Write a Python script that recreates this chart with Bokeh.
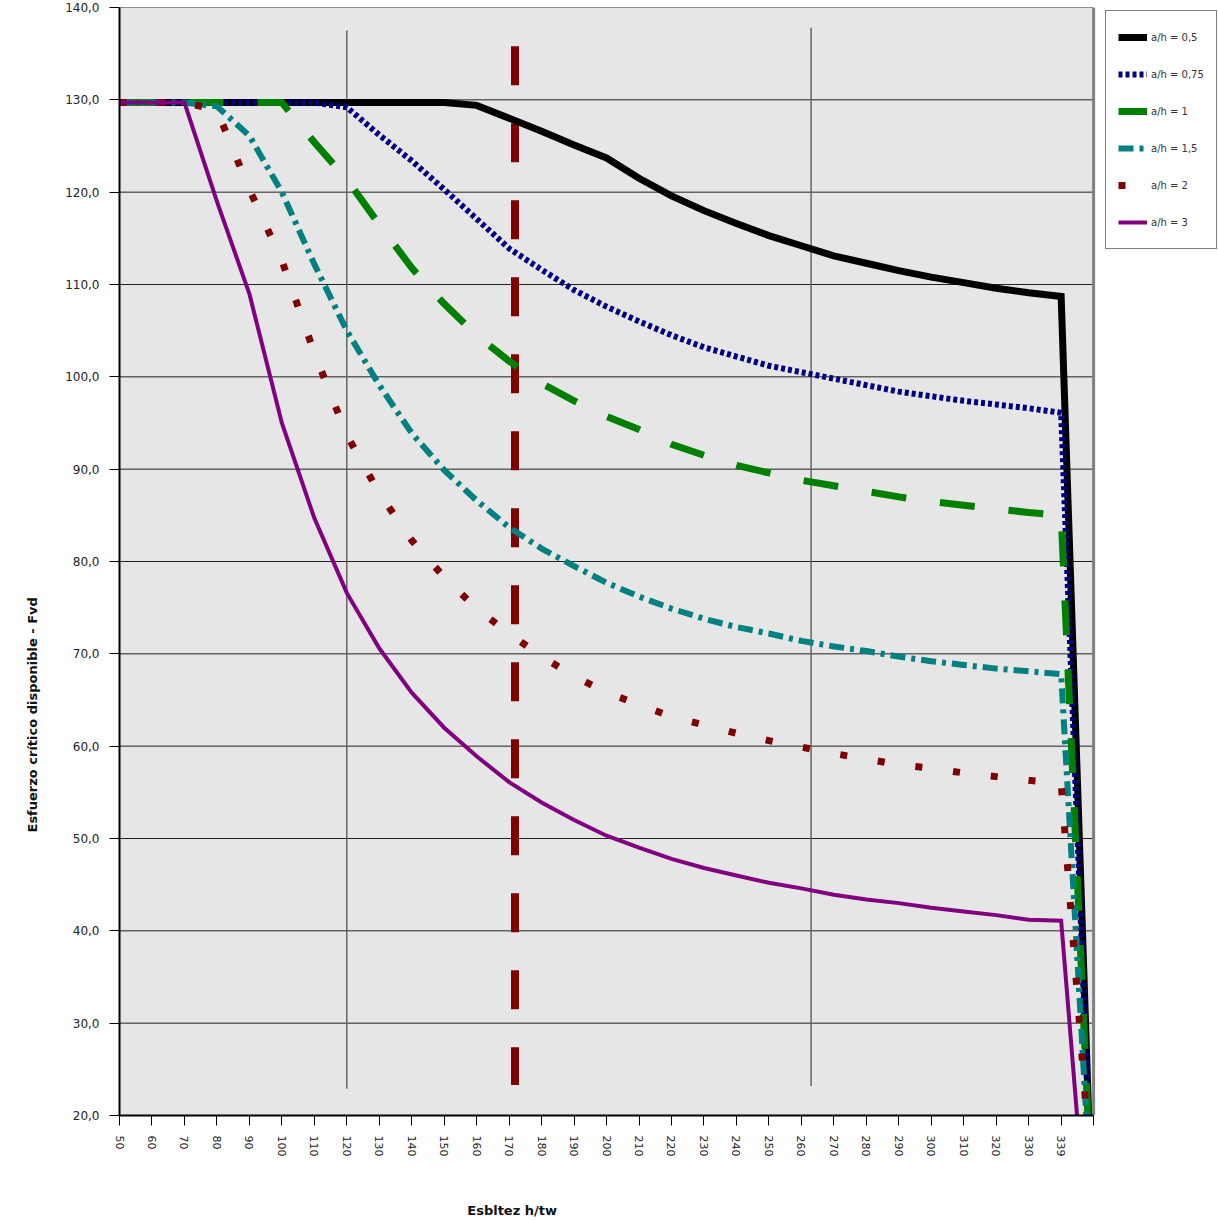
from bokeh.plotting import figure
from bokeh.layouts import column
from bokeh.models import Range1d, FixedTicker, Legend, LegendItem, Title, Label
from bokeh.embed import file_html
from bokeh.resources import INLINE

# ---- data ----
x_labels = ["50", "60", "70", "80", "90", "100", "110", "120", "130", "140", "150",
            "160", "170", "180", "190", "200", "210", "220", "230", "240", "250",
            "260", "270", "280", "290", "300", "310", "320", "330", "339", ""]
x_idx = list(range(len(x_labels)))

ah_05 = [129.7, 129.7, 129.7, 129.7, 129.7, 129.7, 129.7, 129.7, 129.7, 129.7, 129.7,
         129.4, 128.0, 126.6, 125.1, 123.7, 121.5, 119.6, 118.0, 116.6, 115.3,
         114.2, 113.1, 112.3, 111.5, 110.8, 110.2, 109.6, 109.1, 108.7, 4.0]
ah_075 = [129.7, 129.7, 129.7, 129.7, 129.7, 129.7, 129.7, 129.2, 126.2, 123.4, 120.3,
          117.1, 113.9, 111.6, 109.4, 107.6, 106.0, 104.5, 103.2, 102.2, 101.2,
          100.5, 99.8, 99.1, 98.4, 97.9, 97.4, 97.0, 96.6, 96.1, 5.0]
ah_1 = [129.7, 129.7, 129.7, 129.7, 129.7, 129.7, 125.4, 121.4, 116.5, 111.8, 107.9,
        104.5, 101.7, 99.3, 97.4, 95.7, 94.3, 92.7, 91.5, 90.4, 89.6,
        88.8, 88.2, 87.6, 87.0, 86.5, 86.1, 85.7, 85.3, 85.0, 6.0]
ah_15 = [129.7, 129.7, 129.7, 129.3, 126.1, 120.0, 112.2, 105.0, 99.1, 93.9, 89.9,
         86.6, 83.7, 81.4, 79.5, 77.7, 76.2, 74.9, 73.8, 72.9, 72.2,
         71.4, 70.8, 70.3, 69.7, 69.2, 68.8, 68.4, 68.1, 67.8, 6.0]
ah_2 = [129.7, 129.7, 129.7, 128.9, 120.3, 112.6, 102.6, 93.7, 87.4, 82.3, 78.3,
        74.9, 72.2, 69.7, 67.6, 65.8, 64.5, 63.2, 62.3, 61.4, 60.6,
        59.9, 59.2, 58.6, 58.0, 57.6, 57.1, 56.7, 56.3, 56.0, 10.0]
ah_3 = [129.7, 129.7, 129.7, 119.0, 109.0, 95.0, 84.7, 76.6, 70.6, 65.8, 62.0,
        58.9, 56.1, 53.9, 52.0, 50.3, 49.0, 47.8, 46.8, 46.0, 45.2,
        44.6, 43.9, 43.4, 43.0, 42.5, 42.1, 41.7, 41.2, 41.1, -2.0]

series_names = ["a/h = 0,5", "a/h = 0,75", "a/h = 1", "a/h = 1,5", "a/h = 2", "a/h = 3"]

y_ticks = [20, 30, 40, 50, 60, 70, 80, 90, 100, 110, 120, 130, 140]
y_tick_labels = ["20,0", "30,0", "40,0", "50,0", "60,0", "70,0", "80,0", "90,0",
                 "100,0", "110,0", "120,0", "130,0", "140,0"]

# reference lines (category-index position, top value, bottom value)
guide_x = [7.0, 21.3]
guide_top = [137.5, 137.8]
guide_bottom = [22.9, 23.2]
limit_x = [12.18]
limit_top = [135.8]
limit_bottom = [23.3]

FONT = "DejaVu Sans"

X_START, X_END = 0, 30          # plotted category span
Y_START, Y_END = 20, 140
FRAME_W = 1100                  # frame extends to the page edge to host the legend
PLOT_W = 975                    # pixel width of the category span
x_view_end = X_END * FRAME_W / PLOT_W

p = figure(width=1218, height=1196, output_backend="svg", toolbar_location=None,
           x_range=Range1d(X_START, x_view_end), y_range=Range1d(Y_START, Y_END),
           min_border_left=118, min_border_right=0, min_border_top=7,
           min_border_bottom=81)
p.background_fill_color = "white"
p.border_fill_color = "white"
p.outline_line_color = None
p.xgrid.visible = False
p.ygrid.visible = False

# plot-area background, gridlines, right edge
p.quad(left=[X_START], right=[X_END], bottom=[Y_START], top=[Y_END],
       fill_color="#e6e6e6", line_color=None, level="underlay")
p.segment(x0=[X_START] * len(y_ticks), y0=y_ticks, x1=[X_END] * len(y_ticks), y1=y_ticks,
          line_color="#222222", line_width=1)
p.segment(x0=[X_END], y0=[Y_START], x1=[X_END], y1=[Y_END],
          line_color="#808080", line_width=3)

# axes
p.xaxis.bounds = (X_START, X_END)
p.xaxis.ticker = FixedTicker(ticks=x_idx)
p.xaxis.major_label_overrides = {i: lab for i, lab in zip(x_idx, x_labels)}
p.xaxis.major_label_orientation = "vertical"
p.xaxis.major_label_text_font = FONT
p.xaxis.major_label_text_font_size = "11px"
p.xaxis.major_label_text_color = "#222222"
p.xaxis.major_label_standoff = 10
p.xaxis.major_tick_out = 10
p.xaxis.major_tick_in = 0
p.xaxis.minor_tick_line_color = None
p.xaxis.axis_line_width = 2
p.xaxis.axis_line_color = "black"

p.yaxis.ticker = FixedTicker(ticks=y_ticks)
p.yaxis.major_label_overrides = {t: lab for t, lab in zip(y_ticks, y_tick_labels)}
p.yaxis.major_label_text_font = FONT
p.yaxis.major_label_text_font_size = "12px"
p.yaxis.major_label_text_color = "#222222"
p.yaxis.major_label_standoff = 10
p.yaxis.major_tick_out = 10
p.yaxis.major_tick_in = 0
p.yaxis.minor_tick_line_color = None
p.yaxis.axis_line_width = 2
p.yaxis.axis_line_color = "black"

# reference lines
p.segment(x0=guide_x, y0=guide_top, x1=guide_x, y1=guide_bottom,
          line_color="#666666", line_width=1.5)
p.segment(x0=limit_x, y0=limit_top, x1=limit_x, y1=limit_bottom,
          line_color="#800000", line_width=8, line_dash="39 38")

# series
styles = [
    dict(line_color="#000000", line_width=7),
    dict(line_color="#000080", line_width=6, line_dash="4 3"),
    dict(line_color="#008000", line_width=7, line_dash="35 34"),
    dict(line_color="#008080", line_width=6, line_dash="15 6 4 6"),
    dict(line_color="#800000", line_width=7, line_dash="7 31"),
    dict(line_color="#800080", line_width=4),
]
series = [ah_05, ah_075, ah_1, ah_15, ah_2, ah_3]
renderers = []
for ys, st in zip(series, styles):
    r = p.line(x=x_idx, y=ys, line_join="miter", **st)
    renderers.append(r)

legend = Legend(items=[LegendItem(label=n, renderers=[r]) for n, r in zip(series_names, renderers)],
                location=(986, 866), orientation="vertical",
                glyph_width=29, glyph_height=8, label_height=28, spacing=9,
                padding=12, label_standoff=4, margin=0,
                label_text_font=FONT, label_text_font_size="10px",
                label_text_color="#333333",
                border_line_color="black", border_line_width=1,
                background_fill_color="white", background_fill_alpha=1)
p.add_layout(legend, "center")

# y axis title
p.add_layout(Title(text="Esfuerzo crítico disponible - Fvd", align="left", offset=283,
                   standoff=45, text_font=FONT, text_font_size="13px",
                   text_font_style="bold", text_color="#111111"), "left")

# x axis title strip (its frame is aligned with the main plot frame: 118 .. 1218 px)
p2 = figure(width=1218, height=22, output_backend="svg", toolbar_location=None,
            x_range=Range1d(118, 1218), y_range=Range1d(0, 22), min_border=0)
p2.axis.visible = False
p2.grid.visible = False
p2.outline_line_color = None
p2.background_fill_color = "white"
p2.border_fill_color = "white"
p2.add_layout(Label(x=511, y=8, text="Esbltez h/tw", text_align="center",
                    text_baseline="middle", text_font=FONT, text_font_size="13px",
                    text_font_style="bold", text_color="#111111"))

layout = column(p, p2, spacing=0)
open("out.html", "w").write(file_html(layout, INLINE))
